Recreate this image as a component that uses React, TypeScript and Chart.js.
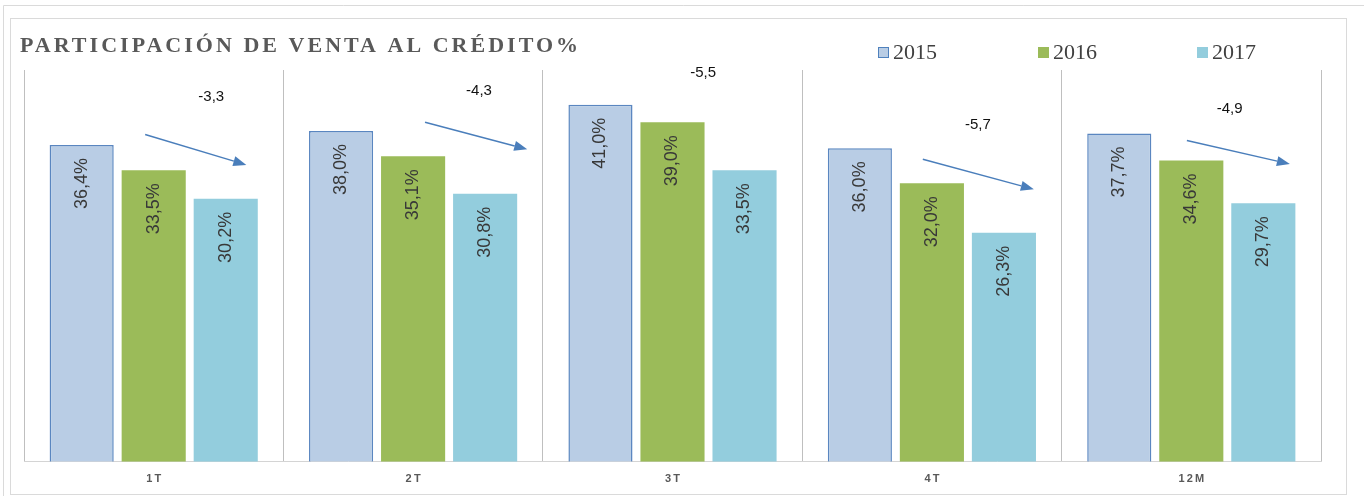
import React, { useEffect, useRef } from "react";
import { Chart, registerables } from "chart.js";
Chart.register(...registerables);

const titleText = "PARTICIPACIÓN DE VENTA AL CRÉDITO%";
const categories = ["1T", "2T", "3T", "4T", "12M"];
const seriesNames = ["2015", "2016", "2017"];
const values2015 = [36.4, 38.0, 41.0, 36.0, 37.7];
const values2016 = [33.5, 35.1, 39.0, 32.0, 34.6];
const values2017 = [30.2, 30.8, 33.5, 26.3, 29.7];
const fillColors = ["#b9cde5", "#9bbb59", "#93cddd"];
const borderColors = ["#5a86c0", "#9bbb59", "#93cddd"];

// change annotations (value units on the y axis, offsets in category widths)
const deltaLabels = ["-3,3", "-4,3", "-5,5", "-5,7", "-4,9"];
const deltaLabelY = [41.9, 42.6, 44.7, 38.7, 40.5];
const deltaLabelOffset = [0.222, 0.254, 0.118, 0.177, 0.148];
const arrowStartY: (number | null)[] = [37.6, 39.0, null, 34.75, 36.9];
const arrowEndY: (number | null)[] = [34.1, 35.9, null, 31.3, 34.2];
const arrowStartOffset: (number | null)[] = [-0.033, 0.046, null, -0.035, -0.017];
const arrowEndOffset: (number | null)[] = [0.357, 0.44, null, 0.393, 0.38];

const fmtPct = (v: number) => v.toFixed(1).replace(".", ",") + "%";

const decorPlugin = {
  id: "decor",
  beforeDraw(chart: any) {
    const ctx = chart.ctx;
    const W = chart.width;
    const H = chart.height;
    ctx.save();
    ctx.fillStyle = "#ffffff";
    ctx.fillRect(0, 0, W, H);
    ctx.strokeStyle = "#dadada";
    ctx.lineWidth = 1;
    // outer frame (top + left)
    ctx.beginPath();
    ctx.moveTo(3.5, H);
    ctx.lineTo(3.5, 5.5);
    ctx.lineTo(W, 5.5);
    ctx.stroke();
    // inner frame
    ctx.strokeRect(10.5, 18.5, 1336, 476);
    // title
    ctx.fillStyle = "#595959";
    ctx.font = "bold 22px 'Liberation Serif', serif";
    ctx.textBaseline = "alphabetic";
    ctx.textAlign = "left";
    const natural = ctx.measureText(titleText).width;
    const spacing = (558 - natural) / (titleText.length - 1);
    (ctx as any).letterSpacing = spacing.toFixed(2) + "px";
    ctx.fillText(titleText, 20, 52);
    (ctx as any).letterSpacing = "0px";
    // legend
    const legendX = [878, 1038, 1197];
    chart.data.datasets.forEach((ds: any, i: number) => {
      const x = legendX[i];
      ctx.fillStyle = ds.backgroundColor;
      ctx.fillRect(x, 47, 11, 11);
      if (i === 0) {
        ctx.strokeStyle = "#4f81bd";
        ctx.lineWidth = 1;
        ctx.strokeRect(x + 0.5, 47.5, 10, 10);
      }
      ctx.fillStyle = "#404040";
      ctx.font = "22px 'Liberation Serif', serif";
      ctx.textBaseline = "alphabetic";
      ctx.fillText(ds.label, x + 15, 59);
    });
    ctx.restore();
  },
  afterDatasetsDraw(chart: any) {
    const ctx = chart.ctx;
    const xs = chart.scales.x;
    const ys = chart.scales.y;
    const catW = xs.width / categories.length;
    ctx.save();
    // value labels inside bars, rotated
    ctx.font = "18px 'Liberation Sans', Arial, sans-serif";
    ctx.fillStyle = "#383838";
    chart.data.datasets.forEach((ds: any, di: number) => {
      const meta = chart.getDatasetMeta(di);
      meta.data.forEach((bar: any, i: number) => {
        ctx.save();
        ctx.translate(bar.x, bar.y + 13);
        ctx.rotate(-Math.PI / 2);
        ctx.textAlign = "right";
        ctx.textBaseline = "middle";
        ctx.fillText(fmtPct(ds.data[i]), 0, 0);
        ctx.restore();
      });
    });
    // delta labels and arrows
    ctx.font = "15px 'Liberation Sans', Arial, sans-serif";
    ctx.fillStyle = "#111111";
    ctx.textAlign = "center";
    ctx.textBaseline = "middle";
    categories.forEach((_, i) => {
      const cx = xs.getPixelForValue(i);
      ctx.fillText(deltaLabels[i], cx + deltaLabelOffset[i] * catW, ys.getPixelForValue(deltaLabelY[i]));
      const sy = arrowStartY[i];
      const ey = arrowEndY[i];
      const so = arrowStartOffset[i];
      const eo = arrowEndOffset[i];
      if (sy == null || ey == null || so == null || eo == null) return;
      const x1 = cx + so * catW;
      const y1 = ys.getPixelForValue(sy);
      const x2 = cx + eo * catW;
      const y2 = ys.getPixelForValue(ey);
      const ang = Math.atan2(y2 - y1, x2 - x1);
      const headLen = 13;
      const headHalf = 5;
      const bx = x2 - headLen * Math.cos(ang);
      const by = y2 - headLen * Math.sin(ang);
      ctx.strokeStyle = "#4a7ebb";
      ctx.lineWidth = 1.5;
      ctx.beginPath();
      ctx.moveTo(x1, y1);
      ctx.lineTo(bx, by);
      ctx.stroke();
      ctx.fillStyle = "#4a7ebb";
      ctx.beginPath();
      ctx.moveTo(x2, y2);
      ctx.lineTo(bx + headHalf * Math.sin(ang), by - headHalf * Math.cos(ang));
      ctx.lineTo(bx - headHalf * Math.sin(ang), by + headHalf * Math.cos(ang));
      ctx.closePath();
      ctx.fill();
      ctx.fillStyle = "#111111";
    });
    ctx.restore();
  },
};

export default function App() {
  const ref = useRef<HTMLCanvasElement | null>(null);
  useEffect(() => {
    document.body.style.margin = "0";
    const canvas = ref.current;
    if (!canvas) return;
    const seriesValues = [values2015, values2016, values2017];
    const chart = new Chart(canvas, {
      type: "bar",
      data: {
        labels: categories,
        datasets: seriesNames.map((name, i) => ({
          label: name,
          data: seriesValues[i],
          backgroundColor: fillColors[i],
          borderColor: borderColors[i],
          borderWidth: i === 0 ? 1.5 : 0,
          borderSkipped: "bottom",
          categoryPercentage: 0.833,
          barPercentage: 0.89,
        })),
      },
      options: {
        responsive: false,
        animation: false,
        devicePixelRatio: 1,
        layout: { padding: { left: 24, right: 43, top: 70, bottom: -1 } },
        plugins: {
          legend: { display: false },
          title: { display: false },
          tooltip: { enabled: false },
        },
        scales: {
          x: {
            grid: { display: true, color: "#bfbfbf", drawTicks: false, offset: true },
            border: { display: true, color: "#d4d4d4" },
            ticks: {
              color: "#595959",
              font: { family: "'Liberation Sans', Arial, sans-serif", size: 11, weight: "bold" },
              padding: 11,
              callback: (_v: any, idx: number) => categories[idx].split("").join("\u2009"),
            },
          },
          y: {
            display: false,
            min: 0,
            max: 45,
          },
        },
      },
      plugins: [decorPlugin],
    });
    return () => chart.destroy();
  }, []);
  return (
    <div style={{ width: 1364, height: 496, position: "relative" }}>
      <canvas ref={ref} width={1364} height={496} style={{ display: "block" }} />
    </div>
  );
}
